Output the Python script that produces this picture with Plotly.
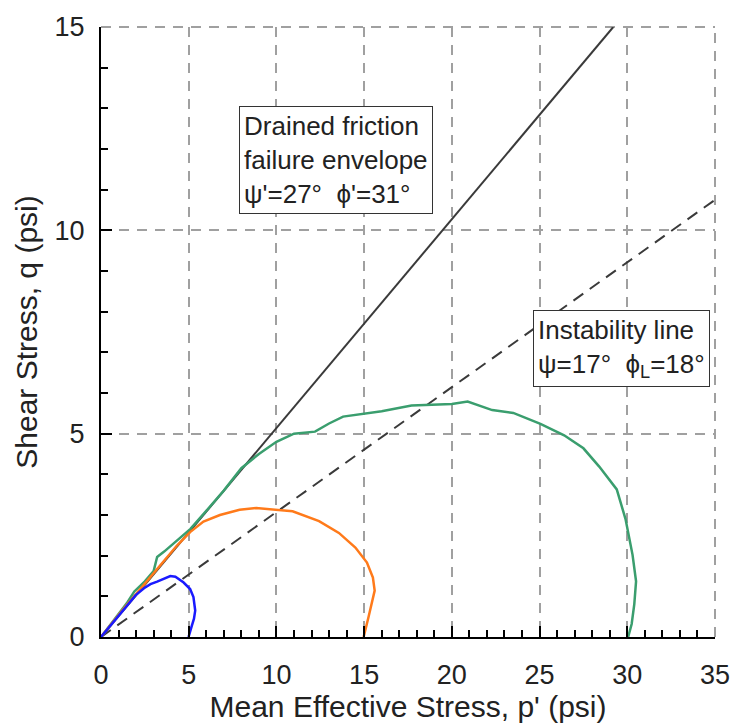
import plotly.graph_objects as go

# Effective stress paths (p', q) in psi for three consolidation pressures
p_5 = [0.0, 0.66, 1.04, 1.5, 1.98, 2.45, 2.82, 3.2, 3.58, 3.95, 4.24, 4.71, 5.08, 5.27, 5.37, 5.3, 5.18, 4.99]
q_5 = [0.0, 0.34, 0.54, 0.79, 1.03, 1.2, 1.3, 1.36, 1.44, 1.50, 1.48, 1.34, 1.18, 0.98, 0.65, 0.45, 0.28, 0.0]

p_15 = [0.0, 0.75, 1.32, 2.07, 2.82, 3.58, 4.33, 5.08, 5.84, 6.78, 7.9, 8.85, 9.89, 10.92, 12.43, 13.56, 14.5, 15.16, 15.5, 15.6, 15.25, 14.97]
q_15 = [0.0, 0.41, 0.71, 1.09, 1.48, 1.87, 2.25, 2.58, 2.84, 3.0, 3.13, 3.17, 3.13, 3.09, 2.85, 2.56, 2.2, 1.83, 1.46, 1.14, 0.49, 0.0]

p_30 = [0.0, 0.5, 1.0, 1.5, 1.9, 2.5, 3.0, 3.2, 3.6, 4.3, 5.1, 6.0, 7.0, 8.0, 9.0, 10.0, 11.0, 12.2, 13.0, 13.8,
        15.0, 16.0, 17.7, 20.0, 20.9, 22.3, 23.5, 25.05, 26.4, 27.5, 28.4, 29.4, 29.9, 30.3, 30.5, 30.4, 30.25, 30.05]
q_30 = [0.0, 0.28, 0.56, 0.85, 1.12, 1.37, 1.62, 1.97, 2.1, 2.36, 2.66, 3.1, 3.6, 4.15, 4.5, 4.8, 5.0, 5.05, 5.25, 5.42,
        5.5, 5.55, 5.69, 5.73, 5.79, 5.58, 5.51, 5.24, 4.96, 4.64, 4.19, 3.63, 2.9, 2.02, 1.37, 0.81, 0.32, 0.0]

# Reference lines
envelope_p = [0.0, 29.2]
envelope_q = [0.0, 15.0]
instability_p = [0.0, 35.0]
instability_q = [0.0, 10.75]

FONT = "Liberation Sans, Arial, sans-serif"
GRID = "#a0a0a0"

fig = go.Figure()
fig.add_trace(go.Scatter(x=instability_p, y=instability_q, mode="lines",
                         line=dict(color="#3a3a3a", width=2, dash="12px,8px"), hoverinfo="skip"))
fig.add_trace(go.Scatter(x=envelope_p, y=envelope_q, mode="lines",
                         line=dict(color="#3a3a3a", width=2), hoverinfo="skip"))
fig.add_trace(go.Scatter(x=p_30, y=q_30, mode="lines", line=dict(color="#3a9e6e", width=2.5)))
fig.add_trace(go.Scatter(x=p_15, y=q_15, mode="lines", line=dict(color="#ff7a1a", width=2.5)))
fig.add_trace(go.Scatter(x=p_5, y=q_5, mode="lines", line=dict(color="#1a1aff", width=2.5)))

fig.add_annotation(x=7.86, y=13.05, xref="x", yref="y", xanchor="left", yanchor="top",
                   text="Drained friction<br>failure envelope<br>ψ'=27°  ϕ'=31°",
                   showarrow=False, align="left", bgcolor="white", bordercolor="#333",
                   borderwidth=1, borderpad=4, font=dict(family=FONT, size=26, color="#222"))
fig.add_annotation(x=24.6, y=8.05, xref="x", yref="y", xanchor="left", yanchor="top",
                   text="Instability line<br>ψ=17°  ϕ<sub>L</sub>=18°",
                   showarrow=False, align="left", bgcolor="white", bordercolor="#333",
                   borderwidth=1, borderpad=4, font=dict(family=FONT, size=26, color="#222"))

# dashed frame along the top and right edges of the plot area
fig.add_shape(type="line", xref="paper", yref="paper", x0=0, x1=1, y0=1, y1=1,
              line=dict(color=GRID, width=2, dash="10px,8px"), layer="below")
fig.add_shape(type="line", xref="paper", yref="paper", x0=1, x1=1, y0=0, y1=1,
              line=dict(color=GRID, width=2, dash="10px,8px"), layer="below")

axis_common = dict(
    showline=True, linecolor="black", linewidth=2, layer="above traces",
    ticks="inside", ticklen=11, tickwidth=2, tickcolor="black",
    showgrid=True, gridcolor=GRID, gridwidth=2, griddash="10px,8px",
    zeroline=False, tickfont=dict(family=FONT, size=27, color="#222"),
    ticklabeloverflow="allow",
    minor=dict(dtick=1, ticks="inside", ticklen=7, tickwidth=1.5, tickcolor="black", showgrid=False),
)

fig.update_xaxes(range=[0, 35], dtick=5, tick0=0, ticklabelstandoff=13,
                 title=dict(text="Mean Effective Stress, p' (psi)", font=dict(family=FONT, size=30, color="#222"), standoff=4),
                 **axis_common)
fig.update_yaxes(range=[0, 15], dtick=5, tick0=0, ticklabelstandoff=9,
                 title=dict(text="Shear Stress, q (psi)", font=dict(family=FONT, size=30, color="#222"), standoff=8),
                 **axis_common)

fig.update_layout(width=742, height=727, margin=dict(l=101, r=22, t=24, b=86),
                  plot_bgcolor="white", paper_bgcolor="white", showlegend=False)

fig.write_html("out.html")
